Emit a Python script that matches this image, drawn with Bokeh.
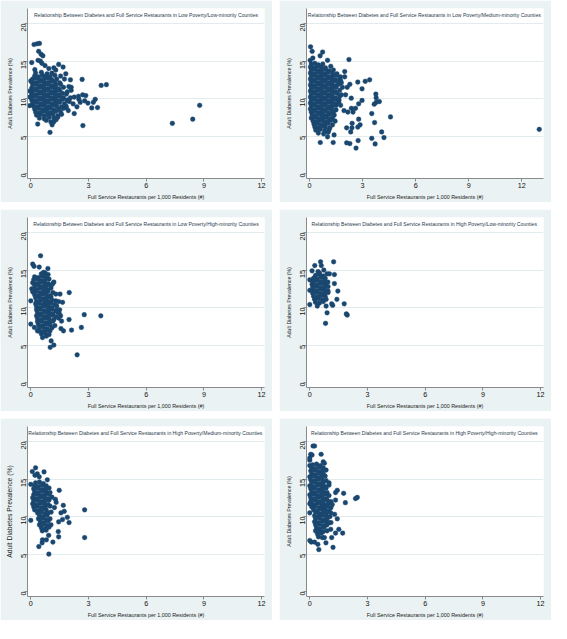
import math
from bokeh.plotting import figure
from bokeh.layouts import gridplot
from bokeh.models import Label, FixedTicker
from bokeh.embed import file_html
from bokeh.resources import INLINE

titles = [
    "Relationship Between Diabetes and Full Service Restaurants in Low Poverty/Low-minority Counties",
    "Relationship Between Diabetes and Full Service  Restaurants in Low Poverty/Medium-minority Counties",
    "Relationship Between Diabetes and Full Service Restaurants in Low Poverty/High-minority Counties",
    "Relationship Between Diabetes and Full Service  Restaurants in High Poverty/Low-minority Counties",
    "Relationship Between Diabetes and Full Service  Restaurants in High Poverty/Medium-minority Counties",
    "Relationship Between Diabetes and Full Service  Restaurants in High Poverty/High-minority Counties",
]
x_ticks = [0, 3, 6, 9, 12]
y_ticks = [0, 5, 10, 15, 20]
x_label = "Full Service Restaurants per 1,000 Residents (#)"
y_label = "Adult Diabetes Prevalence (%)"

# ---------------- Panel 1: Low Poverty / Low-minority ----------------
p1_x = [
    0.25, 0.55, 0.85, 1.10,
    0.20, 0.40, 0.60, 0.80, 1.00, 1.25,
    0.10, 0.30, 0.50, 0.70, 0.90, 1.10, 1.35,
    0.05, 0.25, 0.45, 0.65, 0.85, 1.05, 1.25, 1.50,
    0.10, 0.30, 0.50, 0.70, 0.90, 1.10, 1.30, 1.55,
    0.05, 0.25, 0.45, 0.65, 0.85, 1.05, 1.25, 1.45, 1.70,
    0.10, 0.30, 0.50, 0.70, 0.90, 1.10, 1.30, 1.50,
    0.05, 0.25, 0.45, 0.65, 0.85, 1.05, 1.25, 1.45, 1.65, 1.85,
    0.10, 0.30, 0.50, 0.70, 0.90, 1.10, 1.30, 1.50, 1.70,
    0.05, 0.25, 0.45, 0.65, 0.85, 1.05, 1.25, 1.45, 1.65, 1.90,
    0.10, 0.30, 0.50, 0.70, 0.90, 1.10, 1.30, 1.50, 1.75,
    0.15, 0.35, 0.55, 0.75, 0.95, 1.15, 1.35, 1.60,
    0.20, 0.40, 0.60, 0.80, 1.00, 1.20, 1.45, 1.70,
    0.25, 0.45, 0.65, 0.85, 1.05, 1.30, 1.55,
    0.30, 0.50, 0.70, 0.90, 1.15, 1.40,
    0.45, 0.70, 0.95, 1.20,
    0.17, 0.33, 0.45, 0.41, 0.54, 0.63,
    0.05, 0.38, 0.50, 0.58, 0.74, 1.45, 1.68, 1.20, 0.94,
    1.82, 0.21,
    2.06, 2.67, 1.98, 2.10, 2.10,
    3.66, 3.93,
    2.06, 2.26, 2.48, 2.70, 2.86, 2.50, 2.57, 2.80, 2.97, 3.25,
    3.35, 3.17, 3.47, 2.20, 2.40, 2.26, 2.71, 1.95, 1.83, 1.90,
    7.36, 8.42, 8.78,
    1.00, 1.11, 0.36, 1.04, 1.32,
    -0.05, -0.05, -0.05, 0.00,
    1.30, 1.55, 1.75, 1.90, 2.00, 1.85, 1.60, 1.40, 0.80, 1.20,
]
p1_y = [
    13.4, 13.5, 13.3, 13.4,
    13.0, 12.9, 13.1, 13.0, 12.9, 13.1,
    12.6, 12.7, 12.5, 12.6, 12.7, 12.5, 12.6,
    12.2, 12.1, 12.3, 12.2, 12.1, 12.3, 12.2, 12.1,
    11.8, 11.9, 11.7, 11.8, 11.9, 11.7, 11.8, 11.9,
    11.4, 11.3, 11.5, 11.4, 11.3, 11.5, 11.4, 11.3, 11.5,
    11.0, 11.1, 10.9, 11.0, 11.1, 10.9, 11.0, 11.1,
    10.6, 10.5, 10.7, 10.6, 10.5, 10.7, 10.6, 10.5, 10.7, 10.6,
    10.2, 10.3, 10.1, 10.2, 10.3, 10.1, 10.2, 10.3, 10.1,
    9.8, 9.7, 9.9, 9.8, 9.7, 9.9, 9.8, 9.7, 9.9, 9.8,
    9.4, 9.5, 9.3, 9.4, 9.5, 9.3, 9.4, 9.5, 9.3,
    9.0, 8.9, 9.1, 9.0, 8.9, 9.1, 9.0, 8.9,
    8.6, 8.7, 8.5, 8.6, 8.7, 8.5, 8.6, 8.7,
    8.2, 8.1, 8.3, 8.2, 8.1, 8.3, 8.2,
    7.8, 7.9, 7.7, 7.8, 7.9, 7.7,
    7.4, 7.3, 7.5, 7.4,
    17.2, 17.3, 17.35, 16.3, 15.9, 15.7,
    14.8, 15.1, 15.0, 14.7, 14.4, 14.55, 14.2, 14.1, 14.0,
    13.3, 13.85,
    12.5, 12.55, 11.6, 11.5, 11.1,
    11.75, 11.85,
    10.1, 10.2, 10.3, 10.5, 10.4, 9.9, 9.5, 9.7, 9.4, 9.5,
    9.9, 8.75, 8.8, 9.3, 8.9, 8.0, 6.4, 8.4, 9.0, 9.75,
    6.7, 7.25, 9.1,
    5.5, 6.5, 6.6, 6.9, 7.2,
    11.0, 10.2, 9.05, 12.35,
    13.8, 13.0, 12.6, 10.9, 9.6, 8.8, 7.9, 7.5, 7.1, 6.9,
]

# ---------------- Panel 2: Low Poverty / Medium-minority ----------------
p2_x = [
    0.10, 0.30, 0.50, 0.75,
    0.05, 0.25, 0.45, 0.65, 0.90, 1.20,
    0.10, 0.30, 0.50, 0.70, 0.90, 1.10, 1.35,
    0.05, 0.25, 0.45, 0.65, 0.85, 1.05, 1.30, 1.55,
    0.10, 0.30, 0.50, 0.70, 0.90, 1.10, 1.30, 1.50, 1.75,
    0.05, 0.25, 0.45, 0.65, 0.85, 1.05, 1.25, 1.45, 1.70,
    0.10, 0.30, 0.50, 0.70, 0.90, 1.10, 1.30, 1.55, 1.80,
    0.05, 0.25, 0.45, 0.65, 0.85, 1.05, 1.25, 1.45, 1.65,
    0.10, 0.30, 0.50, 0.70, 0.90, 1.10, 1.30, 1.50,
    0.05, 0.25, 0.45, 0.65, 0.85, 1.05, 1.25, 1.45, 1.70,
    0.10, 0.30, 0.50, 0.70, 0.90, 1.10, 1.30, 1.55, 1.80,
    0.05, 0.25, 0.45, 0.65, 0.85, 1.05, 1.25, 1.45, 1.70,
    0.10, 0.30, 0.50, 0.70, 0.90, 1.10, 1.30, 1.50,
    0.05, 0.25, 0.45, 0.65, 0.85, 1.05, 1.25, 1.45, 1.65,
    0.10, 0.30, 0.50, 0.70, 0.90, 1.10, 1.30, 1.50,
    0.05, 0.25, 0.45, 0.65, 0.85, 1.05, 1.25, 1.50,
    0.10, 0.30, 0.50, 0.70, 0.90, 1.10, 1.35,
    0.15, 0.35, 0.55, 0.75, 0.95, 1.15, 1.40,
    0.10, 0.30, 0.50, 0.70, 0.90, 1.10, 1.30,
    0.20, 0.40, 0.60, 0.80, 1.00, 1.20, 1.45,
    0.25, 0.45, 0.65, 0.85, 1.05, 1.30,
    0.30, 0.50, 0.70, 0.90, 1.15,
    0.35, 0.60, 0.85, 1.10,
    0.50, 0.80, 1.05,
    0.06, 0.15, 0.74, 0.60, 0.04, 0.19, 1.02, 2.23, 1.99, 1.99,
    2.73, 3.15, 3.40, 2.97, 2.28, 3.75, 3.77, 3.95, 3.77, 3.66,
    2.97, 2.78, 2.60, 2.37, 2.46, 2.17, 2.78, 2.41, 2.86, 2.73,
    2.40, 2.33, 2.10, 3.52, 3.68, 4.58, 4.08, 4.21, 3.52, 3.71,
    2.75, 2.63, 2.28, 2.10, 1.34, 1.39, 0.61, 1.02, 12.99,
    1.76, 1.95, 1.67, 2.04, 2.36, 1.86, 2.13, 1.76,
]
p2_y = [
    14.6, 14.7, 14.5, 14.6,
    14.2, 14.1, 14.3, 14.2, 14.1, 14.3,
    13.8, 13.9, 13.7, 13.8, 13.9, 13.7, 13.8,
    13.4, 13.3, 13.5, 13.4, 13.3, 13.5, 13.4, 13.3,
    13.0, 13.1, 12.9, 13.0, 13.1, 12.9, 13.0, 13.1, 12.9,
    12.6, 12.5, 12.7, 12.6, 12.5, 12.7, 12.6, 12.5, 12.7,
    12.2, 12.3, 12.1, 12.2, 12.3, 12.1, 12.2, 12.3, 12.1,
    11.8, 11.7, 11.9, 11.8, 11.7, 11.9, 11.8, 11.7, 11.9,
    11.4, 11.5, 11.3, 11.4, 11.5, 11.3, 11.4, 11.5,
    11.0, 10.9, 11.1, 11.0, 10.9, 11.1, 11.0, 10.9, 11.1,
    10.6, 10.7, 10.5, 10.6, 10.7, 10.5, 10.6, 10.7, 10.5,
    10.2, 10.1, 10.3, 10.2, 10.1, 10.3, 10.2, 10.1, 10.3,
    9.8, 9.9, 9.7, 9.8, 9.9, 9.7, 9.8, 9.9,
    9.4, 9.3, 9.5, 9.4, 9.3, 9.5, 9.4, 9.3, 9.5,
    9.0, 9.1, 8.9, 9.0, 9.1, 8.9, 9.0, 9.1,
    8.6, 8.5, 8.7, 8.6, 8.5, 8.7, 8.6, 8.5,
    8.2, 8.3, 8.1, 8.2, 8.3, 8.1, 8.2,
    7.8, 7.7, 7.9, 7.8, 7.7, 7.9, 7.8,
    7.4, 7.5, 7.3, 7.4, 7.5, 7.3, 7.4,
    7.0, 6.9, 7.1, 7.0, 6.9, 7.1, 7.0,
    6.6, 6.7, 6.5, 6.6, 6.7, 6.5,
    6.2, 6.1, 6.3, 6.2, 6.1,
    5.8, 5.9, 5.7, 5.8,
    5.4, 5.3, 5.5,
    16.9, 16.3, 16.2, 15.7, 15.1, 15.4, 15.1, 15.2, 13.6, 12.9,
    12.2, 12.3, 12.5, 11.3, 11.9, 10.6, 10.1, 9.6, 9.5, 9.25,
    9.75, 9.3, 8.7, 8.7, 8.2, 8.2, 7.25, 6.7, 6.5, 6.2,
    6.1, 5.55, 6.1, 8.0, 6.8, 7.55, 5.55, 4.8, 4.7, 3.95,
    4.4, 3.4, 4.0, 4.1, 4.15, 5.15, 4.15, 4.9, 5.9,
    9.1, 8.4, 9.8, 10.5, 10.05, 11.5, 11.5, 12.4,
]

# ---------------- Panel 3: Low Poverty / High-minority ----------------
p3_x = [
    0.55, 0.75, 0.90,
    0.20, 0.40, 0.60, 0.80,
    0.15, 0.35, 0.55, 0.75, 0.95,
    0.10, 0.30, 0.50, 0.70, 0.90, 1.20,
    0.20, 0.40, 0.60, 0.80, 1.00,
    0.05, 0.25, 0.45, 0.65, 0.85, 1.05,
    0.10, 0.30, 0.50, 0.70, 0.90, 1.15,
    0.20, 0.40, 0.60, 0.80, 1.00, 1.30,
    0.25, 0.45, 0.65, 0.85, 1.05,
    0.00, 0.30, 0.50, 0.70, 0.90, 1.10, 1.30,
    0.25, 0.45, 0.65, 0.85, 1.05, 1.25,
    0.30, 0.50, 0.70, 0.90, 1.10, 1.35,
    0.30, 0.50, 0.70, 0.90, 1.10, 1.30, 1.50,
    0.35, 0.55, 0.75, 0.95, 1.15, 1.40,
    0.30, 0.50, 0.70, 0.90, 1.10, 1.30, 1.55,
    0.35, 0.55, 0.75, 0.95, 1.20, 1.45,
    0.35, 0.55, 0.75, 0.95, 1.15,
    0.40, 0.60, 0.80, 1.00, 1.25,
    0.45, 0.65, 0.85, 1.10,
    0.35, 0.60, 0.80, 1.00,
    0.55, 0.75, 0.95,
    0.51, 0.10, 0.17, 0.44, 0.89, 0.67,
    1.15, 1.06, 1.52, 2.00, 1.45, 1.65, 2.78, 3.64, 1.99, 1.60,
    1.57, 1.70, 2.12, 2.63, 2.41, 1.06, 1.20, 1.01, 0.81, 0.61,
    0.00, 0.19, 0.39, 1.35, 1.48,
]
p3_y = [
    14.5, 14.6, 14.4,
    14.1, 14.0, 14.2, 14.1,
    13.7, 13.8, 13.6, 13.7, 13.8,
    13.3, 13.2, 13.4, 13.3, 13.2, 13.4,
    12.9, 13.0, 12.8, 12.9, 13.0,
    12.5, 12.4, 12.6, 12.5, 12.4, 12.6,
    12.1, 12.2, 12.0, 12.1, 12.2, 12.0,
    11.7, 11.6, 11.8, 11.7, 11.6, 11.8,
    11.3, 11.4, 11.2, 11.3, 11.4,
    10.9, 10.8, 11.0, 10.9, 10.8, 11.0, 10.9,
    10.5, 10.6, 10.4, 10.5, 10.6, 10.4,
    10.1, 10.0, 10.2, 10.1, 10.0, 10.2,
    9.7, 9.8, 9.6, 9.7, 9.8, 9.6, 9.7,
    9.3, 9.2, 9.4, 9.3, 9.2, 9.4,
    8.9, 9.0, 8.8, 8.9, 9.0, 8.8, 8.9,
    8.5, 8.4, 8.6, 8.5, 8.4, 8.6,
    8.1, 8.2, 8.0, 8.1, 8.2,
    7.7, 7.6, 7.8, 7.7, 7.6,
    7.3, 7.4, 7.2, 7.3,
    6.9, 6.8, 7.0, 6.9,
    6.5, 6.6, 6.4,
    16.9, 15.8, 15.5, 15.4, 15.2, 14.7,
    13.2, 12.9, 11.8, 12.0, 10.8, 10.7, 9.05, 8.9, 8.4, 8.2,
    7.2, 6.9, 7.0, 7.35, 3.7, 5.55, 5.0, 4.7, 6.2, 6.0,
    7.8, 7.35, 6.9, 9.6, 9.2,
]

# ---------------- Panel 4: High Poverty / Low-minority ----------------
p4_x = [
    0.30, 0.50, 0.70,
    0.20, 0.40, 0.60, 0.80,
    0.15, 0.35, 0.55, 0.75,
    0.20, 0.40, 0.60, 0.80,
    0.15, 0.35, 0.55, 0.75, 0.95,
    0.20, 0.40, 0.60, 0.80, 0.95,
    0.15, 0.35, 0.55, 0.75, 0.95,
    0.20, 0.40, 0.60, 0.80,
    0.25, 0.45, 0.65, 0.85,
    0.30, 0.50, 0.70,
    0.56, 1.24, 0.60, 0.26, 0.73, 0.12, 0.43, 0.90, 1.02, 1.28,
    0.51, 0.00, 0.22, 0.94, 1.28, 1.46, 1.41, 1.79, 1.14, 1.19,
    0.85, 0.39, 0.00, 0.90, 1.90, 1.95, 0.82, 0.00, 0.12,
]
p4_y = [
    14.3, 14.4, 14.2,
    13.9, 13.8, 14.0, 13.9,
    13.5, 13.6, 13.4, 13.5,
    13.1, 13.0, 13.2, 13.1,
    12.7, 12.8, 12.6, 12.7, 12.8,
    12.3, 12.2, 12.4, 12.3, 12.2,
    11.9, 12.0, 11.8, 11.9, 12.0,
    11.5, 11.4, 11.6, 11.5,
    11.1, 11.2, 11.0, 11.1,
    10.7, 10.6, 10.8,
    16.1, 16.1, 15.6, 15.6, 15.0, 14.9, 14.8, 14.5, 14.5, 14.4,
    14.6, 13.7, 13.9, 13.4, 13.2, 12.2, 11.1, 10.5, 10.5, 10.3,
    10.2, 10.2, 10.4, 9.3, 9.15, 9.0, 7.9, 12.3, 13.1,
]

# ---------------- Panel 5: High Poverty / Medium-minority ----------------
p5_x = [
    0.25, 0.45, 0.65,
    0.20, 0.40, 0.60, 0.80,
    0.15, 0.35, 0.55, 0.75, 0.95,
    0.20, 0.40, 0.60, 0.80, 1.00,
    0.15, 0.35, 0.55, 0.75, 0.95,
    0.10, 0.30, 0.50, 0.70, 0.90, 1.10,
    0.15, 0.35, 0.55, 0.75, 0.95,
    0.10, 0.30, 0.50, 0.70, 0.90,
    0.15, 0.35, 0.55, 0.75, 1.00,
    0.20, 0.40, 0.60, 0.80,
    0.35, 0.55, 0.75, 0.90,
    0.45, 0.65, 0.85,
    0.40, 0.60, 0.80, 1.00,
    0.50, 0.70, 0.90,
    0.45, 0.65, 0.85, 1.05,
    0.55, 0.75, 0.95,
    0.60, 0.80,
    0.25, 0.08, 0.69, 0.34, 0.22, 0.44, 0.86, 0.00, 1.48, 1.28,
    1.32, 1.69, 1.74, 1.57, 2.80, 1.90, 1.65, 1.45, 1.99, 1.43,
    1.45, 2.80, 0.93, 0.81, 1.15, 0.61, 0.59, 0.42, 0.94, 0.00,
    1.06, 1.23,
]
p5_y = [
    14.5, 14.6, 14.4,
    14.1, 14.0, 14.2, 14.1,
    13.7, 13.8, 13.6, 13.7, 13.8,
    13.3, 13.2, 13.4, 13.3, 13.2,
    12.9, 13.0, 12.8, 12.9, 13.0,
    12.5, 12.4, 12.6, 12.5, 12.4, 12.6,
    12.1, 12.2, 12.0, 12.1, 12.2,
    11.7, 11.6, 11.8, 11.7, 11.6,
    11.3, 11.4, 11.2, 11.3, 11.4,
    10.9, 10.8, 11.0, 10.9,
    10.5, 10.6, 10.4, 10.5,
    10.1, 10.0, 10.2,
    9.7, 9.8, 9.6, 9.7,
    9.3, 9.2, 9.4,
    8.9, 9.0, 8.8, 8.9,
    8.5, 8.4, 8.6,
    8.1, 8.2,
    16.5, 16.0, 15.95, 15.7, 15.5, 15.3, 14.9, 14.3, 13.5, 12.3,
    11.9, 11.5, 10.7, 10.5, 10.9, 9.9, 9.6, 9.3, 9.2, 8.0,
    7.3, 7.2, 7.5, 6.9, 6.6, 6.9, 6.5, 6.0, 5.0, 9.5,
    10.6, 11.2,
]

# ---------------- Panel 6: High Poverty / High-minority ----------------
p6_x = [
    0.15, 0.35, 0.55,
    0.10, 0.30, 0.50, 0.70,
    0.05, 0.25, 0.45, 0.65, 0.85,
    0.10, 0.30, 0.50, 0.70,
    0.00, 0.20, 0.40, 0.60, 0.80,
    0.05, 0.25, 0.45, 0.65, 0.85,
    0.10, 0.30, 0.50, 0.70,
    0.00, 0.20, 0.40, 0.60, 0.80, 1.00,
    0.05, 0.25, 0.45, 0.65, 0.85,
    0.10, 0.30, 0.50, 0.70, 0.90,
    0.00, 0.20, 0.40, 0.60, 0.80, 1.00,
    0.05, 0.25, 0.45, 0.65, 0.85,
    0.10, 0.30, 0.50, 0.70, 0.90, 1.10,
    0.00, 0.20, 0.40, 0.60, 0.80, 1.00,
    0.10, 0.30, 0.50, 0.70, 0.90, 1.10,
    0.20, 0.40, 0.60, 0.80, 1.00,
    0.00, 0.30, 0.50, 0.70, 0.90,
    0.25, 0.45, 0.65, 0.85, 1.05,
    0.30, 0.50, 0.70, 0.90,
    0.25, 0.45, 0.65, 0.85, 1.10,
    0.30, 0.50, 0.70, 0.90,
    0.35, 0.55, 0.75,
    0.30, 0.50, 0.70, 0.90,
    0.40, 0.60,
    0.45, 0.65,
    0.17, 0.25, 0.05, 0.12, 0.59, 0.00, 0.70, 0.76, 1.00, 1.43,
    1.34, 1.76, 2.38, 2.47, 1.85, 1.34, 1.17, 1.09, 1.29, 1.43,
    1.00, 1.09, 1.51, 1.71, 1.34, 0.76, 1.14, 0.84, 1.21, 0.42,
    0.47, 0.08, 0.00, 0.25,
    0.00, 0.00, 0.05,
]
p6_y = [
    16.9, 17.0, 16.8,
    16.5, 16.4, 16.6, 16.5,
    16.1, 16.2, 16.0, 16.1, 16.2,
    15.7, 15.6, 15.8, 15.7,
    15.3, 15.4, 15.2, 15.3, 15.4,
    14.9, 14.8, 15.0, 14.9, 14.8,
    14.5, 14.6, 14.4, 14.5,
    14.1, 14.0, 14.2, 14.1, 14.0, 14.2,
    13.7, 13.8, 13.6, 13.7, 13.8,
    13.3, 13.2, 13.4, 13.3, 13.2,
    12.9, 13.0, 12.8, 12.9, 13.0, 12.8,
    12.5, 12.4, 12.6, 12.5, 12.4,
    12.1, 12.2, 12.0, 12.1, 12.2, 12.0,
    11.7, 11.6, 11.8, 11.7, 11.6, 11.8,
    11.3, 11.4, 11.2, 11.3, 11.4, 11.2,
    10.9, 10.8, 11.0, 10.9, 10.8,
    10.5, 10.6, 10.4, 10.5, 10.6,
    10.1, 10.0, 10.2, 10.1, 10.0,
    9.7, 9.8, 9.6, 9.7,
    9.3, 9.2, 9.4, 9.3, 9.2,
    8.9, 9.0, 8.8, 8.9,
    8.5, 8.4, 8.6,
    8.1, 8.2, 8.0, 8.1,
    7.7, 7.8,
    7.3, 7.2,
    19.4, 19.4, 18.3, 18.2, 18.3, 17.5, 17.3, 17.1, 14.5, 13.5,
    13.2, 13.1, 12.4, 12.55, 11.85, 12.2, 11.6, 10.5, 10.3, 9.7,
    9.2, 8.3, 8.3, 7.8, 7.8, 7.2, 7.2, 6.5, 5.9, 6.3,
    5.6, 6.6, 6.8, 6.6,
    17.8, 16.8, 12.0,
]

panel_x = [p1_x, p2_x, p3_x, p4_x, p5_x, p6_x]
panel_y = [p1_y, p2_y, p3_y, p4_y, p5_y, p6_y]
x_ends = [12.15, 13.23, 12.15, 12.15, 12.15, 12.15]
ylab_sizes = ["5.2px", "5.2px", "5.2px", "5.2px", "6.8px", "5.2px"]

for i, (a, b) in enumerate(zip(panel_x, panel_y)):
    assert len(a) == len(b), (i + 1, len(a), len(b))

NAVY = "#1A476F"
BG = "#EAF2F3"
FONT = "Liberation Sans"


def make_panel(xs, ys, title, x_end, ylab_size):
    x0 = -0.17
    p = figure(width=272, height=202, x_range=(x0, x_end), y_range=(-0.65, 22.0),
               output_backend="svg", toolbar_location=None,
               min_border_left=27, min_border_right=8, min_border_top=8,
               min_border_bottom=24)
    p.background_fill_color = "white"
    p.border_fill_color = BG
    p.outline_line_color = None
    p.scatter(xs, ys, size=4.7, fill_color=NAVY, line_color=NAVY, line_width=0.4)

    p.xgrid.visible = False
    p.ygrid.ticker = FixedTicker(ticks=[5, 10, 15, 20])
    p.ygrid.grid_line_color = "#E2EBEE"
    p.ygrid.grid_line_width = 1

    p.xaxis.ticker = FixedTicker(ticks=x_ticks)
    p.yaxis.ticker = FixedTicker(ticks=y_ticks)
    for ax in (p.xaxis[0], p.yaxis[0]):
        ax.axis_line_color = "#8A8A8A"
        ax.major_tick_line_color = "#8A8A8A"
        ax.minor_tick_line_color = None
        ax.major_tick_in = 0
        ax.major_tick_out = 3
        ax.major_label_standoff = 1
        ax.major_label_text_font = FONT
        ax.major_label_text_font_size = "7.2px"
        ax.major_label_text_color = "#111111"
        ax.axis_label_text_font = FONT
        ax.axis_label_text_font_style = "normal"
        ax.axis_label_text_color = "#222222"
        ax.axis_label_standoff = 3
    p.xaxis.axis_label = x_label
    p.xaxis.axis_label_text_font_size = "5.4px"
    p.yaxis.axis_label = y_label
    p.yaxis.axis_label_text_font_size = ylab_size
    p.yaxis.major_label_orientation = math.pi / 2

    p.add_layout(Label(x=(x0 + x_end) / 2, y=21.15, text=title,
                       text_align="center", text_baseline="middle",
                       text_font=FONT, text_font_size="5.1px",
                       text_color="#2a3a4a"))
    return p


panels = [make_panel(panel_x[i], panel_y[i], titles[i], x_ends[i], ylab_sizes[i])
          for i in range(6)]

grid = gridplot([[panels[0], panels[1]], [panels[2], panels[3]], [panels[4], panels[5]]],
                toolbar_location=None)
grid.spacing = 7

open("out.html", "w").write(file_html(grid, INLINE))
